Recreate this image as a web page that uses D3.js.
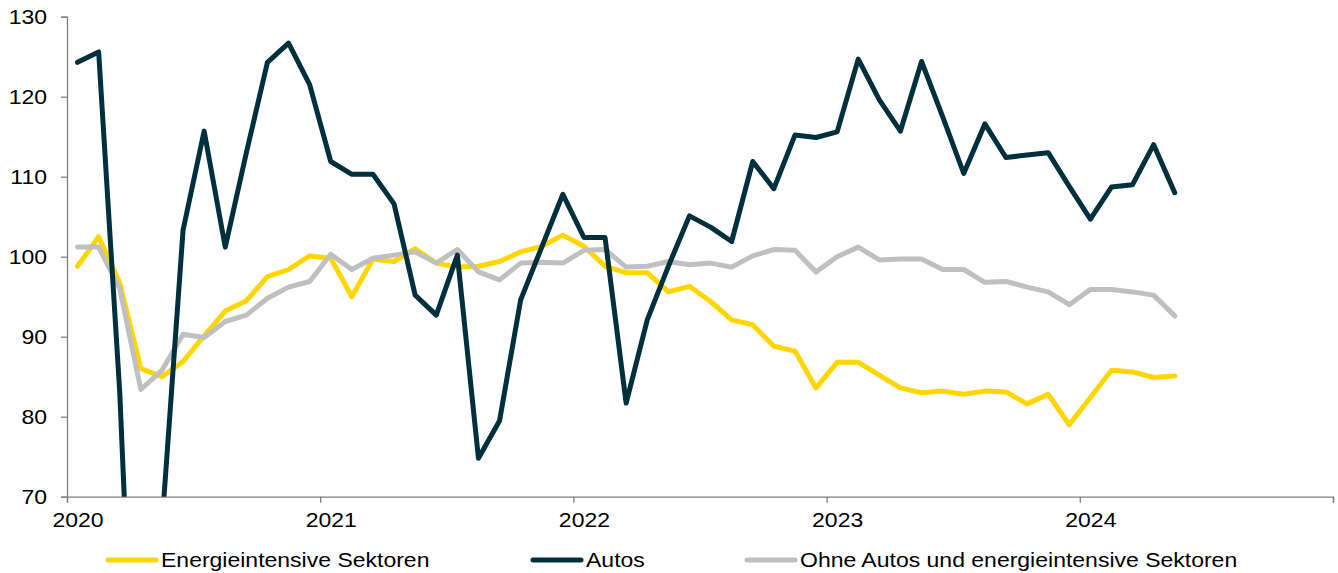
<!DOCTYPE html>
<html>
<head>
<meta charset="utf-8">
<script src="https://cdn.jsdelivr.net/npm/d3@7"></script>
<style>
  body { margin: 0; background: #fff; }
  svg text { font-family: "Liberation Sans", Arial, sans-serif; fill: #000; }
</style>
</head>
<body>
<svg id="chart" width="1338" height="573"></svg>
<script>
// Monatswerte Jan 2020 - Mai 2024
const energie = [98.8, 102.5, 96.7, 86.0, 85.0, 86.9, 90.1, 93.2, 94.5, 97.5, 98.4, 100.1,
  99.8, 95.0, 99.7, 99.4, 101.0, 99.2, 98.7, 98.8, 99.4, 100.6, 101.3, 102.7,
  101.3, 98.8, 98.0, 98.0, 95.6, 96.3, 94.4, 92.1, 91.5, 88.8, 88.2, 83.6,
  86.8, 86.8, 85.2, 83.6, 83.0, 83.2, 82.8, 83.2, 83.1, 81.6, 82.8, 79.0,
  82.4, 85.8, 85.6, 84.9, 85.1];
const autos = [124.3, 125.6, 83.0, 22.0, 66.4, 103.3, 115.7, 101.2, 113.0, 124.3, 126.7, 121.5,
  111.9, 110.3, 110.3, 106.6, 95.2, 92.7, 100.2, 74.8, 79.5, 94.6, 101.2, 107.8,
  102.4, 102.4, 81.7, 92.1, 98.8, 105.1, 103.7, 101.9, 111.9, 108.5, 115.2, 114.9,
  115.6, 124.7, 119.6, 115.7, 124.4, 117.5, 110.4, 116.6, 112.4, 112.7, 113.0, 108.8,
  104.7, 108.7, 109.0, 114.0, 108.0];
const ohne = [101.2, 101.2, 96.0, 83.4, 85.8, 90.3, 89.9, 91.9, 92.7, 94.8, 96.2, 96.9,
  100.3, 98.4, 99.8, 100.2, 100.6, 99.2, 100.9, 98.1, 97.1, 99.2, 99.3, 99.2,
  100.8, 100.9, 98.7, 98.8, 99.4, 99.0, 99.2, 98.7, 100.1, 100.9, 100.8, 98.1,
  100.0, 101.2, 99.6, 99.7, 99.7, 98.4, 98.4, 96.8, 96.9, 96.2, 95.6, 94.0,
  95.9, 95.9, 95.6, 95.2, 92.6];

const years = ["2020", "2021", "2022", "2023", "2024", ""];
const yTicks = [70, 80, 90, 100, 110, 120, 130];

const series = [
  { name: "Energieintensive Sektoren", values: energie, color: "#FFD600" },
  { name: "Ohne Autos und energieintensive Sektoren", values: ohne, color: "#C0C0C0" },
  { name: "Autos", values: autos, color: "#00303D" }
];
const legendOrder = ["Energieintensive Sektoren", "Autos", "Ohne Autos und energieintensive Sektoren"];

const svg = d3.select("#chart");
const plotLeft = 67, plotRight = 1333, plotTop = 16.7, plotBottom = 496.7;
const stretch = 1.15; // Schrift im Original etwas breiter

const x = d3.scaleLinear().domain([0, 60]).range([plotLeft, plotRight]);
const y = d3.scaleLinear().domain([70, 130]).range([plotBottom, plotTop]);
const halfMonth = (x(1) - x(0)) / 2;

svg.append("clipPath").attr("id", "plot-clip")
  .append("rect")
  .attr("x", plotLeft).attr("y", plotTop - 5)
  .attr("width", plotRight - plotLeft + 5).attr("height", plotBottom - plotTop + 5);

// Y-Achse
const yAxis = svg.append("g")
  .attr("transform", `translate(${plotLeft},0)`)
  .call(d3.axisLeft(y).tickValues(yTicks).tickSize(6).tickPadding(14));
yAxis.select(".domain").attr("stroke", "#7f7f7f").attr("stroke-width", 1.3);
yAxis.selectAll(".tick line").attr("stroke", "#7f7f7f").attr("stroke-width", 1.3);
yAxis.selectAll("text")
  .style("font-size", "20px")
  .attr("fill", "#000")
  .attr("x", 0)
  .attr("transform", `translate(-20,0) scale(${stretch},1)`);

// X-Achse
const xAxis = svg.append("g")
  .attr("transform", `translate(0,${plotBottom})`)
  .call(d3.axisBottom(x).tickValues([0, 12, 24, 36, 48, 60])
    .tickFormat((d, i) => years[i]).tickSize(6).tickPadding(10));
xAxis.select(".domain").attr("stroke", "#7f7f7f").attr("stroke-width", 1.3);
xAxis.selectAll(".tick line").attr("stroke", "#7f7f7f").attr("stroke-width", 1.3);
xAxis.selectAll("text")
  .style("font-size", "20px")
  .attr("fill", "#000")
  .attr("y", 0)
  .attr("transform", `translate(${halfMonth},16) scale(${stretch},1)`);

// Linien
const line = d3.line()
  .x((d, i) => x(i + 0.5))
  .y((d) => y(d));

svg.append("g")
  .attr("clip-path", "url(#plot-clip)")
  .selectAll("path")
  .data(series)
  .enter()
  .append("path")
  .attr("fill", "none")
  .attr("stroke", (d) => d.color)
  .attr("stroke-width", 5)
  .attr("stroke-linejoin", "round")
  .attr("stroke-linecap", "round")
  .attr("d", (d) => line(d.values));

// Legende
const legendX = [107, 532, 746];
const legend = svg.append("g")
  .selectAll("g")
  .data(legendOrder.map((n) => series.find((s) => s.name === n)))
  .enter()
  .append("g")
  .attr("transform", (d, i) => `translate(${legendX[i]},560)`);

legend.append("line")
  .attr("x1", 1).attr("x2", 49)
  .attr("stroke", (d) => d.color)
  .attr("stroke-width", 5)
  .attr("stroke-linecap", "round");

legend.append("text")
  .attr("transform", `translate(54,0) scale(${stretch},1)`)
  .attr("dy", "0.35em")
  .style("font-size", "20px")
  .text((d) => d.name);
</script>
</body>
</html>
